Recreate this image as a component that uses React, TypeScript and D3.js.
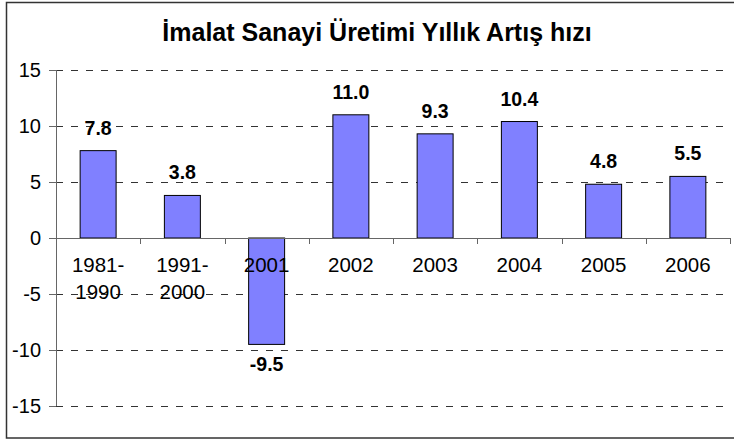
import React from "react";
import * as d3 from "d3";

const categories = ["1981-1990", "1991-2000", "2001", "2002", "2003", "2004", "2005", "2006"];
const tickLabels = [["1981-", "1990"], ["1991-", "2000"], ["2001"], ["2002"], ["2003"], ["2004"], ["2005"], ["2006"]];
const values = [7.8, 3.8, -9.5, 11.0, 9.3, 10.4, 4.8, 5.5];
const yTicks = [15, 10, 5, 0, -5, -10, -15];
const title = "İmalat Sanayi Üretimi Yıllık Artış hızı";

const W = 734;
const H = 441;
const font = "Arial, 'Liberation Sans', sans-serif";

export default function App() {
  const x = d3.scaleBand<string>().domain(categories).range([56, 730]).paddingInner(0.573).paddingOuter(0.2865);
  const y = d3.scaleLinear().domain([-15, 15]).range([406, 70]);
  const step = x.step();
  const boundaries = d3.range(categories.length + 1).map((i) => 56 + i * step);

  return (
    <svg width={W} height={H} style={{ position: "absolute", left: 0, top: 0 }} fontFamily={font}>
      <rect x={0} y={0} width={W} height={H} fill="#fff" />
      <rect x={6.5} y={2.5} width={740} height={435.5} fill="none" stroke="#333" strokeWidth={1.5} />
      <text x={377} y={41} textAnchor="middle" fontSize={25} fontWeight="bold" fill="#000">{title}</text>

      {yTicks.filter((t) => t !== 0).map((t) => (
        <line key={"g" + t} x1={56} x2={728} y1={Math.round(y(t)) + 0.5} y2={Math.round(y(t)) + 0.5}
          stroke="#333" strokeDasharray="7,8" strokeWidth={1} />
      ))}

      {categories.map((c, i) => {
        const v = values[i];
        const y0 = y(0);
        const yv = y(v);
        return (
          <rect key={c} x={x(c)!} width={x.bandwidth()} y={Math.min(y0, yv)} height={Math.abs(yv - y0)}
            fill="#8080FF" stroke="#000" strokeWidth={1} />
        );
      })}

      {/* y axis */}
      <line x1={56.5} x2={56.5} y1={y(15)} y2={y(-15)} stroke="#666" strokeWidth={1} />
      {yTicks.map((t) => (
        <g key={"t" + t}>
          <line x1={49} x2={56} y1={Math.round(y(t)) + 0.5} y2={Math.round(y(t)) + 0.5} stroke="#666" />
          <text x={41} y={y(t) + 7} textAnchor="end" fontSize={20} fill="#000">{t}</text>
        </g>
      ))}

      {/* x axis at 0 */}
      <line x1={56} x2={730} y1={Math.round(y(0)) + 0.5} y2={Math.round(y(0)) + 0.5} stroke="#666" strokeWidth={1} />
      {boundaries.map((b, i) => (
        <line key={"xt" + i} x1={Math.round(b) + 0.5} x2={Math.round(b) + 0.5} y1={y(0)} y2={y(0) + 6} stroke="#666" />
      ))}
      {categories.map((c, i) => (
        <text key={"xl" + c} x={x(c)! + x.bandwidth() / 2} textAnchor="middle" fontSize={20.5} fill="#000">
          {tickLabels[i].map((l, j) => (
            <tspan key={j} x={x(c)! + x.bandwidth() / 2} y={271.5 + j * 27.5}>{l}</tspan>
          ))}
        </text>
      ))}

      {categories.map((c, i) => {
        const v = values[i];
        const yy = v >= 0 ? y(v) - 16 : y(v) + 27;
        return (
          <text key={"vl" + c} x={x(c)! + x.bandwidth() / 2} y={yy} textAnchor="middle" fontSize={19.5} fontWeight="bold" fill="#000">
            {v.toFixed(1)}
          </text>
        );
      })}
    </svg>
  );
}
